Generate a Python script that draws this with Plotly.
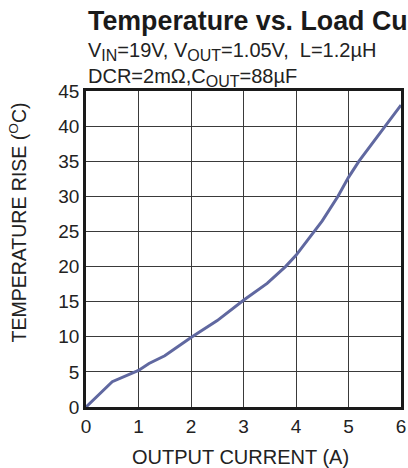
import plotly.graph_objects as go

current_a = [0, 0.5, 1, 1.2, 1.5, 2, 2.5, 3, 3.45, 3.8, 4, 4.35, 4.5, 4.8, 5, 5.2, 5.7, 6]
temp_rise_c = [0, 3.6, 5.2, 6.2, 7.3, 9.9, 12.3, 15.2, 17.6, 20, 21.6, 25, 26.5, 30, 32.7, 35, 40, 43]

x_ticks = [0, 1, 2, 3, 4, 5, 6]
y_ticks = [0, 5, 10, 15, 20, 25, 30, 35, 40, 45]

title_text = "<b>Temperature vs. Load Current</b>"
SUB = "<sub><span style='font-size:16px'>{}</span></sub>"
sub1 = "V" + SUB.format("IN") + "=19V, V" + SUB.format("OUT") + "=1.05V,  L=1.2µH"
sub2 = "DCR=2mΩ,C" + SUB.format("OUT") + "=88µF"
x_title = "OUTPUT CURRENT (A)"
y_title = "TEMPERATURE RISE (<sup>O</sup>C)"

FONT = "Arial, Liberation Sans, sans-serif"

fig = go.Figure()
fig.add_trace(go.Scatter(
    x=current_a, y=temp_rise_c, mode="lines",
    line=dict(color="#6068a0", width=3),
    showlegend=False, hoverinfo="skip",
))

axis_common = dict(
    showgrid=True, gridcolor="#3a3a3a", gridwidth=1,
    showline=True, linecolor="#1a1a1a", linewidth=2.5, mirror=True,
    zeroline=False, ticks="", automargin=False,
    tickfont=dict(size=19, color="#222", family=FONT),
)

fig.update_xaxes(range=[0, 6], tickvals=x_ticks, ticktext=[str(v) for v in x_ticks], **axis_common)
fig.update_yaxes(range=[0, 45], tickvals=y_ticks, ticktext=[str(v) for v in y_ticks], **axis_common)

# plot area: 315 x 316 px
fig.add_annotation(text=x_title, xref="paper", yref="paper", x=0.49, y=0,
                   xanchor="center", yanchor="middle", yshift=-50, showarrow=False,
                   font=dict(size=20, color="#222", family=FONT))
fig.add_annotation(text=y_title, xref="paper", yref="paper", x=0, y=0.584,
                   xanchor="center", yanchor="middle", xshift=-68, textangle=-90,
                   showarrow=False, font=dict(size=19.5, color="#222", family=FONT))

fig.add_annotation(text=title_text, xref="paper", yref="paper", x=0, y=1,
                   xanchor="left", yanchor="middle", yshift=70, showarrow=False,
                   font=dict(size=26.8, color="#1a1a1a", family=FONT))
fig.add_annotation(text=sub1, xref="paper", yref="paper", x=0, y=1,
                   xanchor="left", yanchor="middle", yshift=39.5, showarrow=False,
                   font=dict(size=20, color="#222", family=FONT))
fig.add_annotation(text=sub2, xref="paper", yref="paper", x=0, y=1,
                   xanchor="left", yanchor="middle", yshift=13.5, showarrow=False,
                   font=dict(size=20, color="#222", family=FONT))

fig.update_layout(
    width=408, height=468,
    margin=dict(l=86, r=7, t=91, b=61),
    paper_bgcolor="white", plot_bgcolor="white",
    font=dict(family=FONT),
)

fig.write_html("out.html", config={"displayModeBar": False},
               post_script="document.body.style.margin='0';document.body.style.overflow='hidden';")
